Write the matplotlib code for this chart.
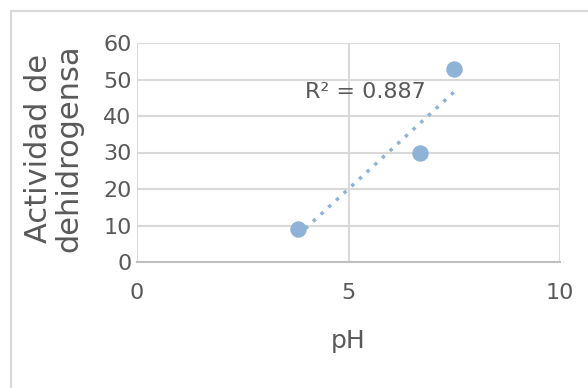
import matplotlib
matplotlib.use("Agg")
import matplotlib.pyplot as plt
import numpy as np
from matplotlib.patches import Rectangle

ph = [3.8, 6.7, 7.5]
actividad = [9, 30, 53]
x_ticks = [0, 5, 10]
y_ticks = [0, 10, 20, 30, 40, 50, 60]
r2_label = "R² = 0.887"

plt.rcParams['font.family'] = ['DejaVu Sans']
gray = '#595959'
grid = '#d9d9d9'
blue = '#8fb3d6'

fig = plt.figure(figsize=(5.88, 3.88), dpi=100)
fig.patches.append(Rectangle((11/588, -0.1), 1.2, 1 - 11/388 + 0.1, transform=fig.transFigure,
                             fill=False, edgecolor='#d9d9d9', linewidth=1.5))
ax = fig.add_axes([137/588, 1 - 262/388, (560-137)/588, (262-43)/388])

ax.set_xlim(0, 10)
ax.set_ylim(0, 60)
ax.set_xticks(x_ticks)
ax.set_yticks(y_ticks)
ax.grid(True, color=grid, linewidth=1.5)
ax.set_axisbelow(True)
for s in ['top', 'right', 'left']:
    ax.spines[s].set_visible(False)
ax.spines['bottom'].set_color('#bfbfbf')
ax.spines['bottom'].set_linewidth(1.5)
ax.tick_params(length=0, colors=gray, labelsize=16)
ax.tick_params(axis='x', pad=15)
ax.tick_params(axis='y', pad=4)

# trendline
x = np.array(ph); y = np.array(actividad)
m, b = np.polyfit(x, y, 1)
xt = np.array([x.min(), x.max()])
ax.plot(xt, m * xt + b, linestyle=(0, (1, 2)), color=blue, linewidth=2.5, zorder=3)
ax.scatter(ph, actividad, s=140, color=blue, zorder=4, linewidths=0)

ax.text(5.41, 46.6, r2_label, color=gray, fontsize=16, ha='center', va='center', zorder=5)

ax.set_xlabel('pH', color=gray, fontsize=18, labelpad=19)
fig.text(54/588, 1 - 148/388, 'Actividad de\ndehidrogensa', color=gray, fontsize=22,
         rotation=90, ha='center', va='center', linespacing=1.05)

fig.savefig('out.png', dpi=100)
